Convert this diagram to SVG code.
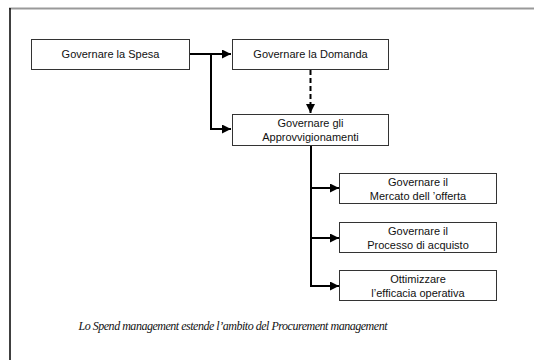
<svg xmlns="http://www.w3.org/2000/svg" width="534" height="360" viewBox="0 0 534 360">
<style>
.box{fill:#fff;stroke:#333;stroke-width:1}
.t{font-family:"Liberation Sans",Arial,sans-serif;font-size:11px;fill:#111;text-anchor:middle}
.c{fill:none;stroke:#000;stroke-width:2}
.d{fill:none;stroke:#000;stroke-width:2;stroke-dasharray:5,3}
.cap{font-family:"Liberation Serif","Times New Roman",serif;font-style:italic;font-size:12px;fill:#111;text-anchor:middle}
</style>
<defs>
<marker id="ah" viewBox="0 0 10 10" refX="10" refY="5" markerWidth="4.5" markerHeight="4.5" orient="auto" markerUnits="strokeWidth">
<path d="M0,0 L10,5 L0,10 Z" fill="#000"/>
</marker>
</defs>
<rect width="534" height="360" fill="#fff"/>
<g id="frame">
<line x1="9" y1="8.5" x2="534" y2="8.5" stroke="#999" stroke-width="2"/>
<line x1="10" y1="8" x2="10" y2="360" stroke="#000" stroke-width="1.5"/>
</g>
<g id="connectors">
<path class="c" d="M190,54 H231" marker-end="url(#ah)"/>
<path class="c" d="M211,54 V129 H231" marker-end="url(#ah)"/>
<path class="d" d="M310.5,70 V113" marker-end="url(#ah)"/>
<path class="c" d="M311,146 V286 H339" marker-end="url(#ah)"/>
<path class="c" d="M311,188 H339" marker-end="url(#ah)"/>
<path class="c" d="M311,238 H339" marker-end="url(#ah)"/>
</g>
<g id="n1"><rect class="box" x="31.5" y="39.5" width="158" height="30"/><text class="t" x="110.5" y="58">Governare la Spesa</text></g>
<g id="n2"><rect class="box" x="232.5" y="39.5" width="156" height="30"/><text class="t" x="310.5" y="58">Governare la Domanda</text></g>
<g id="n3"><rect class="box" x="232.5" y="114.5" width="156" height="31"/><text class="t" x="310.5" y="127">Governare gli</text><text class="t" x="310.5" y="141">Approvvigionamenti</text></g>
<g id="n4"><rect class="box" x="339.5" y="173.5" width="157" height="30"/><text class="t" x="418" y="186">Governare il</text><text class="t" x="418" y="200">Mercato dell ’offerta</text></g>
<g id="n5"><rect class="box" x="339.5" y="222.5" width="157" height="30"/><text class="t" x="418" y="235">Governare il</text><text class="t" x="418" y="249">Processo di acquisto</text></g>
<g id="n6"><rect class="box" x="339.5" y="270.5" width="157" height="30"/><text class="t" x="418" y="283">Ottimizzare</text><text class="t" x="418" y="297">l’efficacia operativa</text></g>
<text class="cap" x="233" y="329.5" textLength="309" lengthAdjust="spacing">Lo Spend management estende l’ambito del Procurement management</text>
</svg>
